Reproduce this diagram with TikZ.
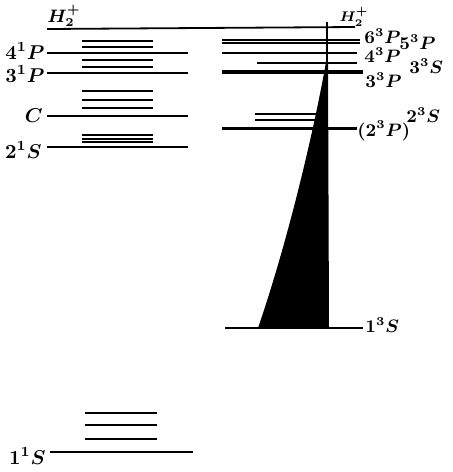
\documentclass[tikz,border=0pt]{standalone}
\begin{document}
\begin{tikzpicture}[x=0.5pt,y=-0.5pt,
  lvl/.style={line width=0.9pt},
  sub/.style={line width=0.7pt},
  lab/.style={font=\normalsize\boldmath,inner sep=0.5pt},
  tlab/.style={font=\small\boldmath,inner sep=0.5pt,anchor=west}]
  % singulett (links) | triplett (rechts) mit Kontinuum ueber 1^3S
  \useasboundingbox (0,0) rectangle (453,472);
  \draw[lvl] (47,29) -- (355,27);
  \node[lab,font=\small\boldmath,anchor=south west] (ionL) at (46,28) {$H_{2}^{+}$};
  \node[lab,font=\scriptsize\boldmath] (ionR) at (354,17) {$H_2^+$};
  % Singulett
  \foreach \y in {53,73,116,147} \draw[lvl] (47,\y) -- (188,\y);
  \foreach \y in {41,47,60,67,91,100,108,135,139,142} \draw[sub] (82,\y) -- (153,\y);
  \draw[lvl] (50,452) -- (193,452);
  \foreach \y in {413,425,439} \draw[sub] (85,\y) -- (157,\y);
  \node[lab,anchor=east] (s4p) at (46,51) {$4^1P$};
  \node[lab,anchor=east] (s3p) at (46,74) {$3^1P$};
  \node[lab,anchor=east] (sc) at (44,116) {$C$};
  \node[lab,anchor=east] (s2s) at (43,150) {$2^1S$};
  \node[lab,anchor=east] (s1s) at (47,456) {$1^1S$};
  % Triplett
  \draw[lvl] (222,40) -- (360,40);
  \draw[lvl] (222,43) -- (360,43);
  \draw[lvl] (222,53) -- (357,53);
  \draw[sub] (257,63) -- (357,63);
  \draw[line width=1.8pt] (222,72) -- (363,72);
  \draw[sub] (255,114) -- (328,114);
  \draw[sub] (255,120) -- (328,120);
  \draw[line width=1.5pt] (222,128) -- (357,128);
  \draw[lvl] (225,328) -- (363,328);
  \draw[line width=1.2pt] (327,22) -- (327,328);
  \fill (329,328) -- (258,328) .. controls (290,235) and (316,120) .. (326,62) -- (328,62) -- cycle;
  \node[tlab] (t6p) at (363,36) {$6^3P$};
  \node[tlab] (t5p) at (398,42) {$5^3P$};
  \node[tlab] (t4p) at (363,55) {$4^3P$};
  \node[tlab] (t3s) at (408,66) {$3^3S$};
  \node[tlab] (t3p) at (364,80) {$3^3P$};
  \node[tlab] (t2s) at (405,115) {$2^3S$};
  \node[tlab] (t2p) at (356,131) {$(2^3P)$};
  \node[tlab] (t1s) at (364,325) {$1^3S$};
\end{tikzpicture}
\end{document}
